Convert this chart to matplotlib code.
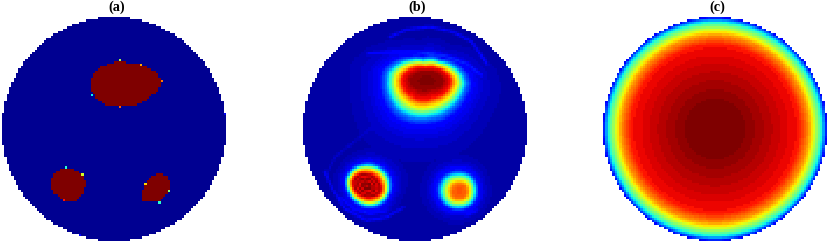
import numpy as np
import matplotlib
matplotlib.use('Agg')
import matplotlib.pyplot as plt
from matplotlib.path import Path

titles = ['(a)', '(b)', '(c)']

centre_a = (342.5, 386)
centre_bc = (375, 386)
radius = 335.5

background_a = 0.02

big_outline = [(360, 184), (425, 195), (470, 213), (486, 243), (470, 275), (440, 298), (410, 316),
               (315, 316), (290, 292), (272, 270), (272, 235), (295, 205), (330, 188)]
left_outline = [(200, 500), (245, 518), (258, 550), (250, 580), (228, 600), (190, 600), (160, 575),
                (150, 545), (165, 515)]
right_outline = [(478, 519), (500, 525), (510, 550), (505, 575), (475, 606), (430, 603), (428, 570),
                 (440, 540), (455, 528)]

spot_xy = [(363, 183), (424, 197), (484, 243), (275, 285), (363, 319), (200, 502), (248, 522),
           (194, 597), (438, 550), (505, 570), (478, 604), (240, 705), (675, 340)]
spot_val = [0.55, 0.72, 0.77, 0.36, 0.80, 0.40, 0.60, 0.88, 0.68, 0.50, 0.40, 0.12, 0.10]

# blobs of panel b: a core outline and an outer outline around one centre
big_centre = (410, 240)
big_core = [(360, 240), (375, 222), (410, 216), (445, 222), (460, 240), (450, 258), (420, 265),
            (385, 265), (365, 255)]
big_outer = [(400, 180), (450, 185), (490, 200), (515, 225), (522, 250), (505, 290), (470, 325),
             (420, 345), (370, 345), (330, 325), (305, 290), (295, 250), (300, 215), (330, 190),
             (365, 180)]
big_t = [-1, 0, 0.38, 0.5, 0.7, 0.92, 1.1, 1.4, 2.0, 3.0]
big_v = [1.0, 0.97, 0.88, 0.76, 0.62, 0.40, 0.25, 0.12, 0.07, 0.04]

left_centre = (230, 556)
left_core = [(200, 530), (235, 525), (262, 545), (270, 572), (250, 585), (220, 583), (197, 565), (192, 545)]
left_outer = [(225, 495), (265, 503), (292, 530), (298, 565), (280, 600), (245, 616), (205, 605),
              (178, 575), (170, 540), (190, 508)]
left_t = [-1, -0.7, -0.5, -0.35, -0.2, 0, 0.2, 0.38, 0.7, 0.92, 1.1, 1.4, 2.0, 3.0]
left_v = [0.92, 1.0, 0.90, 0.99, 0.90, 0.97, 0.88, 0.80, 0.60, 0.40, 0.25, 0.12, 0.07, 0.04]

right_centre = (508, 572)
right_core = [(508, 552), (525, 557), (530, 572), (525, 588), (508, 593), (490, 588), (486, 572), (492, 557)]
right_outer = [(505, 520), (540, 530), (556, 565), (545, 605), (510, 621), (470, 610), (451, 575), (465, 535)]
right_t = [-1, 0, 0.3, 0.55, 0.8, 1.0, 1.3, 2.0, 3.0]
right_v = [0.83, 0.79, 0.68, 0.56, 0.42, 0.30, 0.15, 0.07, 0.04]

# faint arcs of panel b
arcs = [[(300, 110), (350, 88), (420, 80), (490, 95), (545, 125), (590, 190)],
        [(235, 160), (300, 155), (380, 155), (460, 165), (530, 190), (575, 225)],
        [(110, 520), (135, 470), (185, 430), (240, 385)],
        [(105, 515), (130, 570), (165, 625), (230, 660), (290, 650), (340, 620)],
        [(150, 590), (190, 625), (240, 640), (290, 630)],
        [(530, 645), (560, 630)]]
arc_amp = [0.07, 0.06, 0.025, 0.06, 0.05, 0.05]

# radial profile of panel c
profile_r = [0, 0.27, 0.4, 0.55, 0.75, 0.835, 0.88, 0.92, 0.955, 0.985, 1.0]
profile_v = [0.99, 0.985, 0.96, 0.93, 0.885, 0.75, 0.63, 0.50, 0.37, 0.20, 0.10]

n = 96
cells = (np.arange(n) + 0.5) / n * 2 - 1
X, Y = np.meshgrid(cells, cells)
R = np.hypot(X, Y)
inside = R <= 1.0


def to_disk(pts, centre):
    pts = np.array(pts, dtype=float)
    return (pts - centre) / radius


# panel a
field_a = np.full((n, n), background_a)
grid_pts = np.column_stack([X.ravel(), Y.ravel()])
for outline in [big_outline, left_outline, right_outline]:
    hit = Path(to_disk(outline, centre_a)).contains_points(grid_pts).reshape(n, n)
    field_a[hit] = 1.0
for xy, v in zip(to_disk(spot_xy, centre_a), spot_val):
    col = int((xy[0] + 1) / 2 * n)
    row = int((xy[1] + 1) / 2 * n)
    field_a[row, col] = v


# panel b
def outline_radius(outline, centre, theta):
    pts = np.array(outline, dtype=float) - centre
    a = np.degrees(np.arctan2(pts[:, 1], pts[:, 0])) % 360
    r = np.hypot(pts[:, 0], pts[:, 1]) / radius
    order = np.argsort(a)
    return np.interp(theta, a[order], r[order], period=360)


def blob(centre, core, outer, t_pts, v_pts):
    cx, cy = to_disk([centre], centre_bc)[0]
    rho = np.hypot(X - cx, Y - cy)
    theta = np.degrees(np.arctan2(Y - cy, X - cx)) % 360
    rc = outline_radius(core, centre, theta)
    ro = outline_radius(outer, centre, theta)
    t = (rho - rc) / (ro - rc)
    t = np.where(t < 0, rho / rc - 1, t)
    return np.interp(t, t_pts, v_pts)


def arc_field(line, amp):
    pts = to_disk(line, centre_bc)
    dist = np.full(X.shape, 9.0)
    for p, q in zip(pts[:-1], pts[1:]):
        seg = q - p
        t = np.clip(((X - p[0]) * seg[0] + (Y - p[1]) * seg[1]) / (seg @ seg), 0, 1)
        dist = np.minimum(dist, np.hypot(X - p[0] - t * seg[0], Y - p[1] - t * seg[1]))
    return amp * np.exp(-(dist / 0.014) ** 2)


field_b = np.maximum.reduce([blob(big_centre, big_core, big_outer, big_t, big_v),
                             blob(left_centre, left_core, left_outer, left_t, left_v),
                             blob(right_centre, right_core, right_outer, right_t, right_v)])
for line, amp in zip(arcs, arc_amp):
    field_b = field_b + arc_field(line, amp)

# panel c
field_c = np.interp(R, profile_r, profile_v)

fields = [field_a, field_b, field_c]
lefts = [2.3, 303.3, 603.3]
top = 16.7
size = 224

fig = plt.figure(figsize=(8.3, 2.45), dpi=100)
cmap = plt.get_cmap('jet', 64)

for i in range(3):
    ax = fig.add_axes([lefts[i] / 830, 1 - (top + size) / 245, size / 830, size / 245])
    ax.imshow(np.ma.masked_where(~inside, fields[i]), cmap=cmap, vmin=0, vmax=1,
              extent=[-1, 1, 1, -1], interpolation='nearest')
    ax.axis('off')
    fig.text((lefts[i] + size / 2 + 2) / 830, 1 - 7 / 245, titles[i], family='Liberation Serif',
             fontweight='bold', fontsize=10.3, ha='center', va='center')

fig.savefig('out.png', dpi=100)
